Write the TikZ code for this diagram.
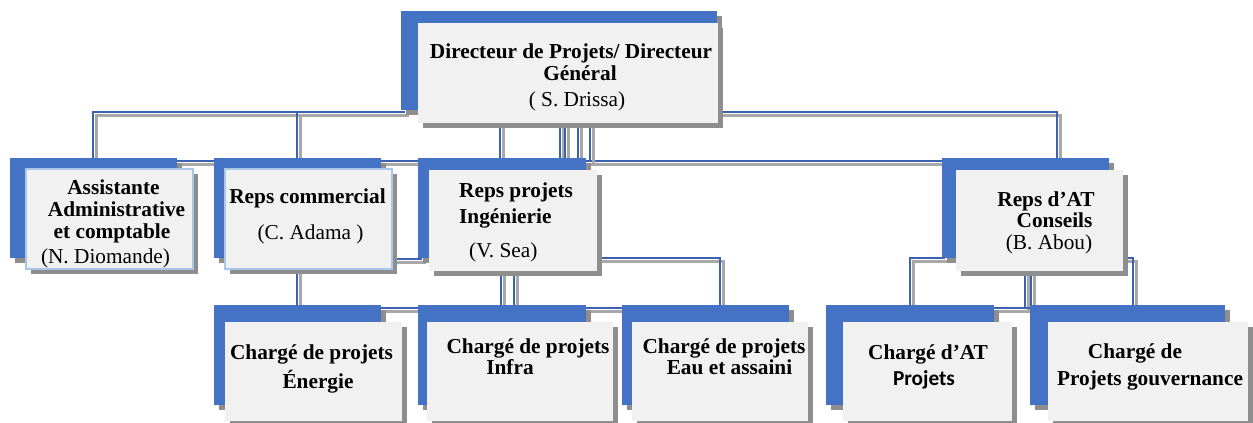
\documentclass[tikz,border=0pt]{standalone}
\usepackage{fontspec}
\setmainfont{Liberation Serif}
\newfontfamily\calfont{Carlito}
\definecolor{cblue}{HTML}{4472C4}
\definecolor{wblue}{HTML}{3A62B0}
\definecolor{lgray}{HTML}{F1F1F1}
\definecolor{shgray}{HTML}{8E8E8E}
\definecolor{wgray}{HTML}{A8A8A8}
\definecolor{lblue}{HTML}{A9C8E8}
\newcommand\fsz{\fontsize{21.3}{25}\selectfont}
\tikzset{
  wire/.style={draw=wblue, line width=1.7pt},
  wiresh/.style={draw=wgray, line width=3.2pt, transform canvas={shift={(3.5,3.5)}}},
  lbl/.style={anchor=base, inner sep=0pt, font=\bfseries\fsz},
  nm/.style={anchor=base, inner sep=0pt, font=\fsz},
  lboxA/.style={fill=lgray, draw=none, inner sep=0pt, outer sep=0pt, anchor=north west},
  lboxB/.style={lboxA, draw=lblue, line width=1.5pt},
  lbox/.style={lboxA},
}
\newcommand\wirepath[1]{\draw[wiresh] #1; \draw[wire] #1;}
\newcommand\orgbox[9]{%
  \fill[shgray] (#2+5,#3+5) rectangle (#4+5,#5+5);
  \fill[cblue] (#2,#3) rectangle (#4,#5);
  \fill[shgray] (#6+5,#7+5) rectangle (#8+5,#9+5);
  \node[lbox, minimum width={#8-#6}, minimum height={#9-#7}] (#1) at (#6,#7) {};
}
\begin{document}
\begin{tikzpicture}[x=1pt,y=-1pt]
\useasboundingbox (0,0) rectangle (1253,423);
\clip (0,0) rectangle (1253,423);
% connector points
\coordinate (a0) at (405,112); \coordinate (a1) at (93,112); \coordinate (a2) at (93,160);
\coordinate (b0) at (297,112); \coordinate (b1) at (297,160);
\coordinate (c0) at (715,112); \coordinate (c1) at (1057,112); \coordinate (c2) at (1057,160);
\coordinate (bus1) at (177,161); \coordinate (bus2) at (945,161);
\foreach \x/\n in {500/1,560/2,565/3,578/4,590/5}{
  \coordinate (v\n a) at (\x,118); \coordinate (v\n b) at (\x,161);
}
\coordinate (d0) at (297,265); \coordinate (d1) at (297,308);
\coordinate (e0) at (390,259); \coordinate (e1) at (422,259);
\coordinate (f0) at (501,265); \coordinate (f1) at (501,308);
\coordinate (g0) at (514,265); \coordinate (g1) at (514,308);
\coordinate (h0) at (595,258); \coordinate (h1) at (720,258); \coordinate (h2) at (720,308);
\coordinate (bus3) at (381,308); \coordinate (bus4) at (622,308);
\coordinate (i0) at (945,258); \coordinate (i1) at (910,258); \coordinate (i2) at (910,308);
\coordinate (j0) at (1025,265); \coordinate (j1) at (1025,308);
\coordinate (k0) at (1031,265); \coordinate (k1) at (1031,308);
\coordinate (bus5) at (993,308);
\coordinate (l0) at (1120,258); \coordinate (l1) at (1133,258); \coordinate (l2) at (1133,308);
% connectors
\wirepath{(a0) -- (a1) -- (a2)}
\wirepath{(b0) -- (b1)}
\wirepath{(c0) -- (c1) -- (c2)}
\wirepath{(bus1) -- (bus2)}
\foreach \n in {1,...,5}{\wirepath{(v\n a) -- (v\n b)}}
\wirepath{(d0) -- (d1)}
\wirepath{(e0) -- (e1)}
\wirepath{(f0) -- (f1)}
\wirepath{(g0) -- (g1)}
\wirepath{(h0) -- (h1) -- (h2)}
\wirepath{(bus3) -- (bus4)}
\wirepath{(i0) -- (i1) -- (i2)}
\wirepath{(j0) -- (j1)}
\wirepath{(k0) -- (k1)}
\wirepath{(bus5) -- (k1)}
\wirepath{(l0) -- (l1) -- (l2)}
% boxes
\orgbox{top}{401}{11}{717}{110}{418}{23}{718}{123}
\tikzset{lbox/.style={lboxB}}
\orgbox{assist}{10}{158}{177}{258}{26}{169}{193}{269}
\orgbox{comm}{214}{158}{381}{258}{225}{169}{392}{269}
\tikzset{lbox/.style={lboxA}}
\orgbox{proj}{418}{158}{586}{258}{429}{170}{597}{271}
\orgbox{repat}{942}{158}{1109}{258}{956}{170}{1123}{271}
\orgbox{ener}{214}{305}{381}{405}{225}{322}{402}{421}
\orgbox{infra}{418}{305}{586}{405}{427}{322}{613}{421}
\orgbox{eau}{622}{305}{789}{405}{632}{322}{808}{421}
\orgbox{chat}{826}{305}{994}{405}{843}{322}{1012}{421}
\orgbox{gouv}{1030}{305}{1225}{405}{1048}{322}{1248}{421}
% texts
\node[lbl] (t1) at (571,58) {Directeur de Projets/ Directeur};
\node[lbl] (t2) at (580,80) {Général};
\node[nm] (t3) at (577,106) {( S. Drissa)};
\node[lbl] (s1) at (113.5,194) {Assistante};
\node[lbl] (s2) at (116.5,216) {Administrative};
\node[lbl] (s3) at (112,238) {et comptable};
\node[nm] (s4) at (105.5,263) {(N. Diomande)};
\node[lbl] (r1) at (307.5,203) {Reps commercial};
\node[nm] (r2) at (310.5,239) {(C. Adama )};
\node[lbl, anchor=base west] (p1) at (459,197) {Reps projets};
\node[lbl, anchor=base west] (p2) at (459,223) {Ingénierie};
\node[nm, anchor=base west] (p3) at (469,257) {(V. Sea)};
\node[lbl] (q1) at (1046,206) {Reps d’AT};
\node[lbl] (q2) at (1054.5,227) {Conseils};
\node[nm] (q3) at (1049,249) {(B. Abou)};
\node[lbl] (n1) at (311.5,359) {Chargé de projets};
\node[lbl] (n2) at (318,388) {Énergie};
\node[lbl] (m1) at (528,353) {Chargé de projets};
\node[lbl] (m2) at (510,374) {Infra};
\node[lbl] (o1) at (724,353) {Chargé de projets};
\node[lbl] (o2) at (729.5,374) {Eau et assaini};
\node[lbl] (u1) at (928,359) {Chargé d’AT};
\node[lbl, font=\calfont\bfseries\fsz] (u2) at (924,385) {Projets};
\node[lbl] (w1) at (1135,358) {Chargé de};
\node[lbl] (w2) at (1150,385) {Projets gouvernance};
\end{tikzpicture}
\end{document}
